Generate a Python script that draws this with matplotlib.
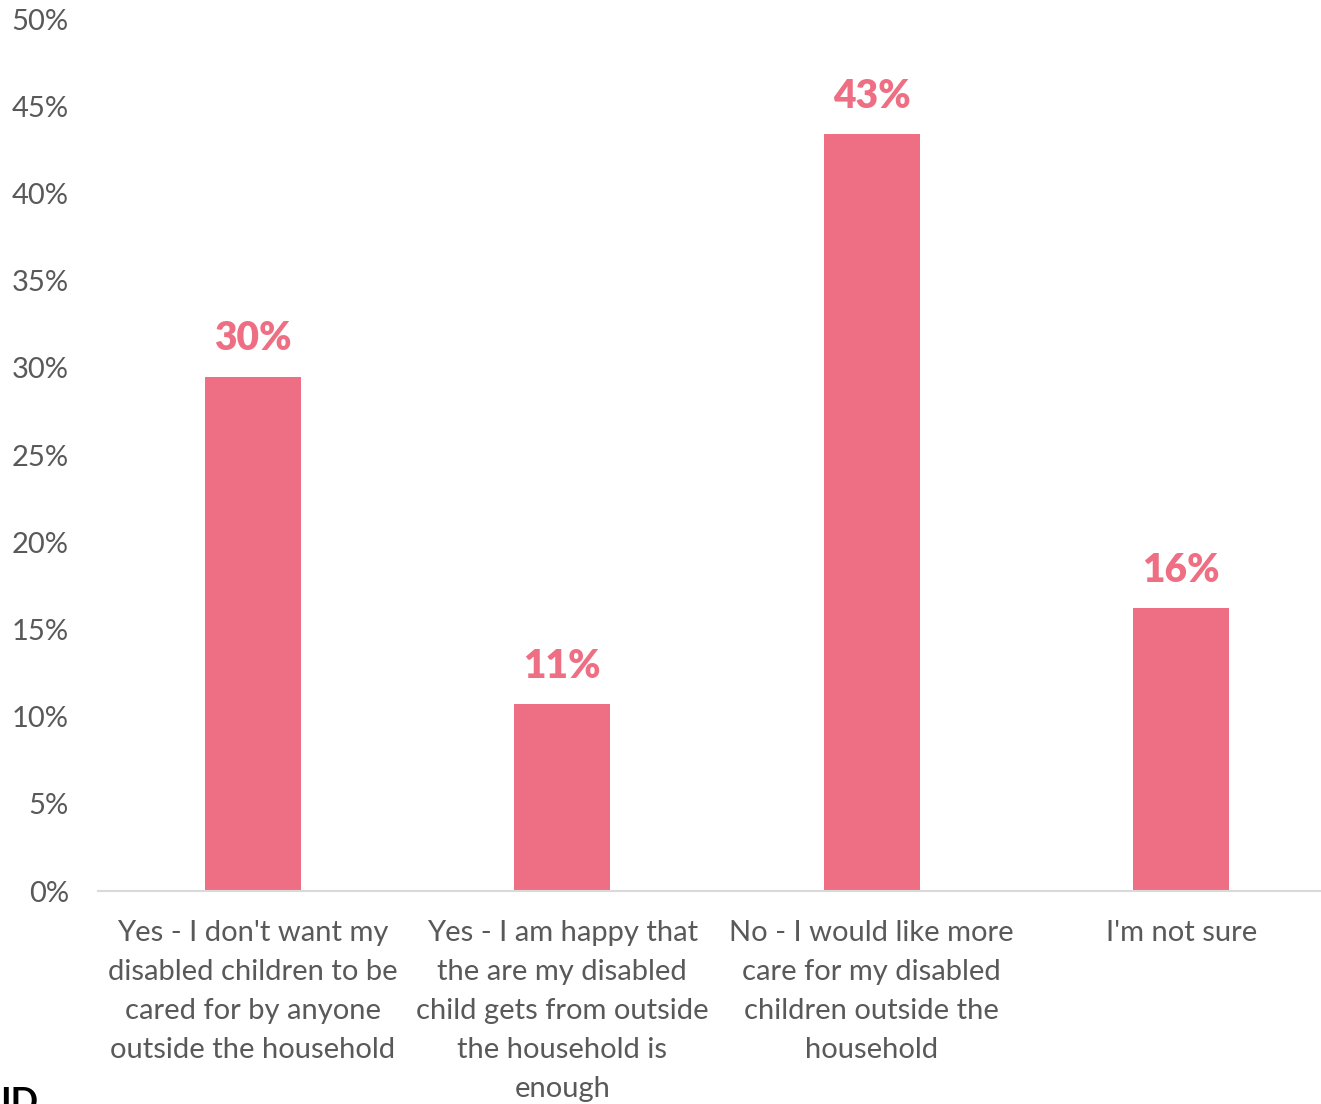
import matplotlib.pyplot as plt
import numpy as np

categories = [
    "Yes - I don't want my\ndisabled children to be\ncared for by anyone\noutside the household",
    "Yes - I am happy that\nthe are my disabled\nchild gets from outside\nthe household is\nenough",
    "No - I would like more\ncare for my disabled\nchildren outside the\nhousehold",
    "I'm not sure",
]
shares = [0.295, 0.107, 0.434, 0.162]
yticks = [0, 0.05, 0.10, 0.15, 0.20, 0.25, 0.30, 0.35, 0.40, 0.45, 0.50]

plt.rcParams['font.family'] = ['Lato', 'DejaVu Sans']

fig = plt.figure(figsize=(13.21, 11.04), dpi=100)
ax = fig.add_axes([98 / 1321, 1 - 891 / 1104, 1238 / 1321, (891 - 19) / 1104])

x = np.arange(len(categories))
bars = ax.bar(x, shares, width=0.31, color='#EE6F83', zorder=2)

for xi, v in zip(x, shares):
    ax.text(xi, v + 0.011, f'{v:.0%}', ha='center', va='bottom',
            fontsize=28, fontweight='heavy', color='#EE6F83')

ax.set_xlim(-0.5, 3.5)
ax.set_ylim(0, 0.5)
ax.set_yticks(yticks)
ax.set_yticklabels([f'{t:.0%}' for t in yticks])
ax.set_xticks(x)
ax.set_xticklabels(categories, linespacing=1.62)

ax.tick_params(axis='y', length=0, pad=21, labelsize=21, labelcolor='#595959')
ax.tick_params(axis='x', length=0, pad=21, labelsize=21, labelcolor='#595959')

for s in ['top', 'right', 'left']:
    ax.spines[s].set_visible(False)
ax.spines['bottom'].set_color('#D9D9D9')
ax.spines['bottom'].set_linewidth(1.5)

fig.text(0.0, 1 - 1086 / 1104, 'ID', ha='left', va='top', fontsize=26,
         fontweight='bold', color='black')

plt.savefig('out.png', dpi=100)
